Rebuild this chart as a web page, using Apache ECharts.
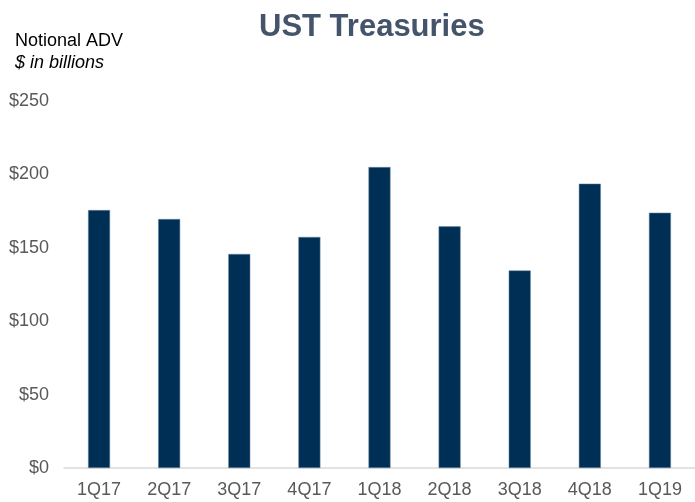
<!DOCTYPE html>
<html>
<head>
<meta charset="utf-8">
<script src="https://cdn.jsdelivr.net/npm/echarts@6/dist/echarts.min.js"></script>
<style>
  html, body { margin: 0; padding: 0; background: #fff; }
  #chart { width: 695px; height: 502px; }
</style>
</head>
<body>
<div id="chart"></div>
<script>
// quarters on the x axis
const categories = ['1Q17', '2Q17', '3Q17', '4Q17', '1Q18', '2Q18', '3Q18', '4Q18', '1Q19']
// notional ADV, $ billions
const advValues = [175.7, 169.6, 145.8, 157.4, 205, 164.6, 134.6, 193.7, 173.9]
const yTicks = [0, 50, 100, 150, 200, 250]

const chart = echarts.init(document.getElementById('chart'))
chart.setOption({
  animation: false,
  textStyle: { fontFamily: 'Liberation Sans, Arial, sans-serif' },
  title: [
    {
      text: 'UST Treasuries',
      left: 254,
      top: 7,
      textStyle: { fontSize: 31, fontWeight: 'bold', color: '#44546a' }
    },
    {
      text: 'Notional ADV',
      left: 15,
      top: 32,
      padding: 0,
      textStyle: { fontSize: 18, fontWeight: 'normal', color: '#000' }
    },
    {
      text: '$ in billions',
      left: 15,
      top: 54,
      padding: 0,
      textStyle: { fontSize: 18, fontWeight: 'normal', fontStyle: 'italic', color: '#000' }
    }
  ],
  grid: {
    left: 64,
    top: 101,
    width: 635,
    bottom: 34,
    containLabel: false
  },
  xAxis: {
    type: 'category',
    data: categories,
    axisLine: { lineStyle: { color: '#d9d9d9', width: 1.5 } },
    axisTick: { show: false },
    axisLabel: { color: '#595959', fontSize: 18, margin: 13 }
  },
  yAxis: {
    type: 'value',
    min: yTicks[0],
    max: yTicks[yTicks.length - 1],
    interval: 50,
    axisLine: { show: false },
    axisTick: { show: false },
    splitLine: { show: false },
    axisLabel: {
      color: '#595959',
      fontSize: 18,
      margin: 15,
      formatter: v => '$' + v
    }
  },
  series: [
    {
      name: 'Notional ADV',
      type: 'bar',
      data: advValues,
      barWidth: 22,
      itemStyle: {
        color: '#002f56',
        borderColor: '#6f8aa5',
        borderWidth: 0.5
      }
    }
  ]
})
</script>
</body>
</html>
